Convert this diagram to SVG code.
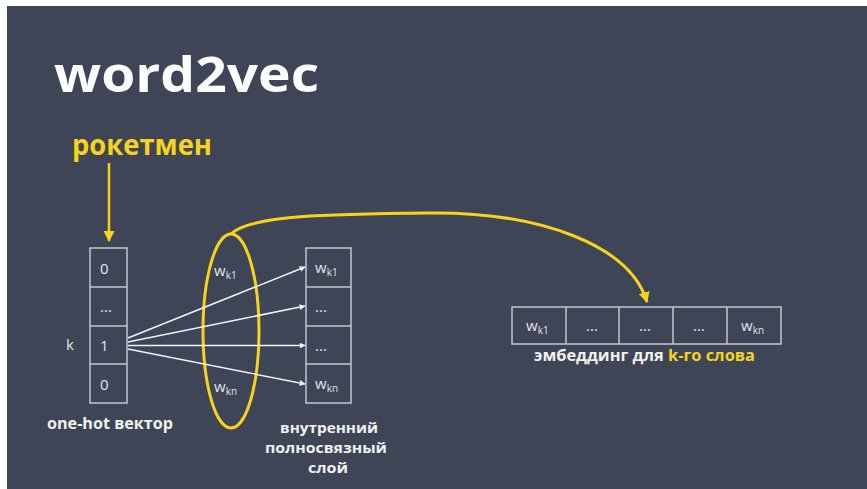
<svg xmlns="http://www.w3.org/2000/svg" width="867" height="489" viewBox="0 0 867 489">
  <style>
    .t { font-family: "Open Sans", "Noto Sans", "DejaVu Sans", sans-serif; }
    .bold { font-weight: 700; }
    .cell { fill: none; stroke: #c4c7cc; stroke-width: 1.5; }
    .val { font-family: "Open Sans", "Noto Sans", sans-serif; font-size: 15px; fill: #e4e5e8; }
    .sub { font-size: 10px; }
    .lbl { font-family: "Open Sans", "Noto Sans", sans-serif; font-weight: 700; font-size: 15.5px; fill: #f2f2f2; }
    .stack { font-size: 14.5px; }
    .yel { fill: #f8d31c; }
    .wire { stroke: #f2f2f2; stroke-width: 1.5; fill: none; marker-end: url(#wa); }
  </style>
  <defs>
    <marker id="wa" viewBox="0 0 10 10" refX="9" refY="5" markerWidth="6" markerHeight="6" markerUnits="userSpaceOnUse" orient="auto">
      <path d="M0,0 L10,5 L0,10 z" fill="#f2f2f2"/>
    </marker>
    <marker id="ya" viewBox="0 0 10 10" refX="9" refY="5" markerWidth="11" markerHeight="11" markerUnits="userSpaceOnUse" orient="auto">
      <path d="M0,0 L10,5 L0,10 z" fill="#f8d31c"/>
    </marker>
  </defs>

  <!-- page -->
  <rect x="0" y="0" width="867" height="489" fill="#ffffff"/>
  <rect x="7" y="6" width="860" height="483" fill="#3d4556"/>

  <!-- title -->
  <text class="t bold" x="54" y="92" font-size="49" fill="#ffffff" textLength="265" lengthAdjust="spacingAndGlyphs">word2vec</text>

  <!-- input word -->
  <g id="word">
    <text class="t bold yel" x="72" y="155" font-size="29" textLength="140" lengthAdjust="spacingAndGlyphs">рокетмен</text>
  </g>

  <!-- one-hot vector -->
  <g id="onehot">
    <rect class="cell" x="90" y="248" width="37" height="155"/>
    <line class="cell" x1="90" y1="287" x2="127" y2="287"/>
    <line class="cell" x1="90" y1="326" x2="127" y2="326"/>
    <line class="cell" x1="90" y1="364" x2="127" y2="364"/>
    <text class="val" x="100" y="274">0</text>
    <text class="val" x="100" y="312">...</text>
    <text class="val" x="100" y="351">1</text>
    <text class="val" x="100" y="390">0</text>
    <text class="val" x="66" y="350" font-size="16">k</text>
    <text class="lbl" x="47" y="429" textLength="126" lengthAdjust="spacingAndGlyphs">one-hot вектор</text>
  </g>

  <!-- selected weights -->
  <g id="weights">
    <ellipse cx="231" cy="331" rx="28" ry="97" fill="none" stroke="#f8d31c" stroke-width="3"/>
    <text class="val" x="214" y="276">w<tspan class="sub" dy="3">k1</tspan></text>
    <text class="val" x="214" y="392">w<tspan class="sub" dy="3">kn</tspan></text>
  </g>

  <!-- hidden layer -->
  <g id="hidden">
    <rect class="cell" x="306" y="248" width="45" height="155"/>
    <line class="cell" x1="306" y1="287" x2="351" y2="287"/>
    <line class="cell" x1="306" y1="326" x2="351" y2="326"/>
    <line class="cell" x1="306" y1="364" x2="351" y2="364"/>
    <text class="val" x="315" y="273">w<tspan class="sub" dy="3">k1</tspan></text>
    <text class="val" x="315" y="312">...</text>
    <text class="val" x="315" y="351">...</text>
    <text class="val" x="315" y="389">w<tspan class="sub" dy="3">kn</tspan></text>
    <text class="lbl stack" text-anchor="middle" x="329" y="433" textLength="98" lengthAdjust="spacingAndGlyphs">внутренний</text>
    <text class="lbl stack" text-anchor="middle" x="326" y="453" textLength="122" lengthAdjust="spacingAndGlyphs">полносвязный</text>
    <text class="lbl stack" text-anchor="middle" x="328" y="473" textLength="40" lengthAdjust="spacingAndGlyphs">слой</text>
  </g>

  <!-- embedding -->
  <g id="embedding">
    <rect class="cell" x="512" y="307" width="269" height="37"/>
    <line class="cell" x1="566" y1="307" x2="566" y2="344"/>
    <line class="cell" x1="619" y1="307" x2="619" y2="344"/>
    <line class="cell" x1="673" y1="307" x2="673" y2="344"/>
    <line class="cell" x1="727" y1="307" x2="727" y2="344"/>
    <text class="val" x="526" y="331">w<tspan class="sub" dy="3">k1</tspan></text>
    <text class="val" x="586" y="331">...</text>
    <text class="val" x="639" y="331">...</text>
    <text class="val" x="693" y="331">...</text>
    <text class="val" x="741" y="331">w<tspan class="sub" dy="3">kn</tspan></text>
    <text class="lbl" x="534" y="361" textLength="221" lengthAdjust="spacingAndGlyphs">эмбеддинг для <tspan class="yel">k-го слова</tspan></text>
  </g>

  <!-- connectors -->
  <g id="connectors">
    <line x1="109" y1="163" x2="109" y2="241" stroke="#f8d31c" stroke-width="2.5" marker-end="url(#ya)"/>
    <line class="wire" x1="128" y1="338" x2="305" y2="267"/>
    <line class="wire" x1="128" y1="342" x2="305" y2="306"/>
    <line class="wire" x1="128" y1="345.5" x2="305" y2="345.5"/>
    <line class="wire" x1="128" y1="349" x2="305" y2="384"/>
    <path d="M231,234 C250,215 330,214 430,213 C540,212 630,245 647,302" fill="none" stroke="#f8d31c" stroke-width="3" marker-end="url(#ya)"/>
  </g>
</svg>
